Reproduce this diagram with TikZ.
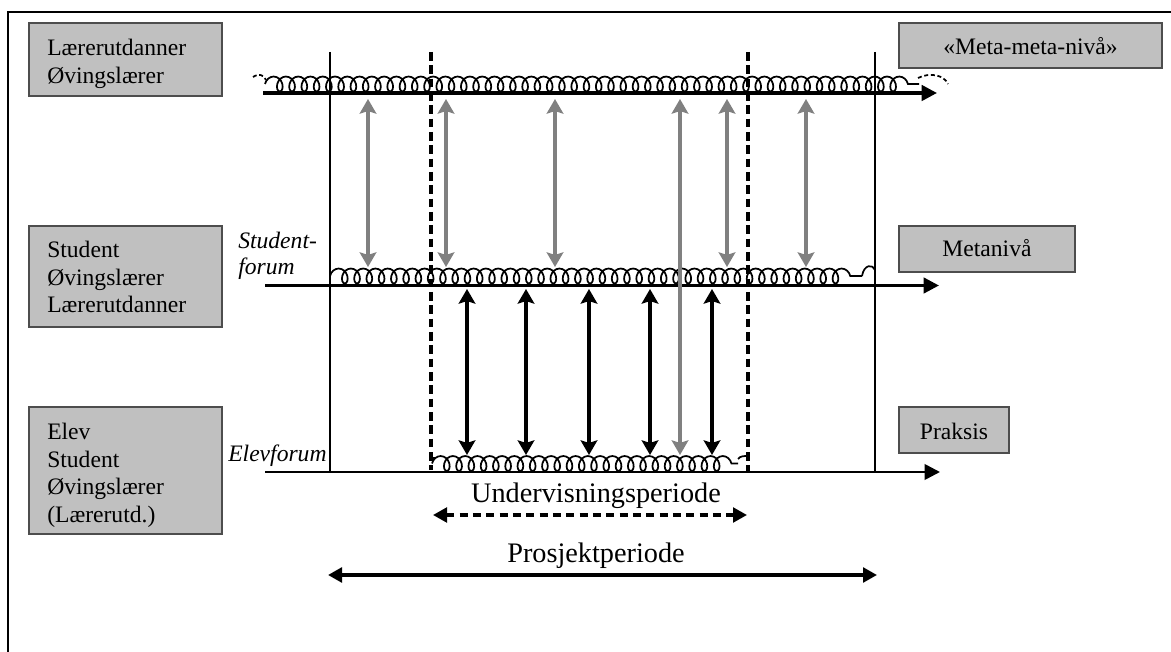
\documentclass[tikz,border=0pt]{standalone}
\usepackage{fontspec}
\setmainfont{Liberation Serif}
\usetikzlibrary{arrows.meta,decorations.pathmorphing,fit}
\definecolor{boxfill}{RGB}{192,192,192}
\definecolor{boxline}{RGB}{77,77,77}
\definecolor{linkgray}{RGB}{128,128,128}
\begin{document}
\begin{tikzpicture}[x=0.75pt,y=-0.75pt,
  levelbox/.style={draw=boxline, line width=0.9pt, fill=boxfill, inner sep=0pt},
  boxtext/.style={inner sep=0pt, align=left, anchor=north west, font=\fontsize{17.7pt}{20.6pt}\selectfont},
  tagtext/.style={inner sep=0pt, anchor=base, font=\fontsize{17.7pt}{20.6pt}\selectfont},
  forumtext/.style={inner sep=0pt, align=left, anchor=north west, font=\fontsize{17.7pt}{19.5pt}\selectfont\itshape},
  periodtext/.style={inner sep=0pt, anchor=base, font=\fontsize{21.2pt}{24pt}\selectfont},
  phase/.style={line width=1.2pt},
  window/.style={line width=2.4pt, dash pattern=on 6.5pt off 3.5pt},
  timeline/.style={-{Triangle[length=11.5pt,width=11.5pt]}},
  spiral/.style={line width=1.3pt, decorate, decoration={coil, amplitude=5.6pt, segment length=9.2pt, aspect=0.75}},
  spiraltail/.style={line width=1.3pt, dash pattern=on 3pt off 2pt},
  reflect/.style={draw=linkgray, line width=3pt,
    {Stealth[length=11pt,width=12.5pt,inset=2pt]}-{Stealth[length=11pt,width=12.5pt,inset=2pt]}},
  act/.style={draw=black, line width=2.6pt,
    {Stealth[length=11pt,width=12.5pt,inset=2pt]}-{Stealth[length=11pt,width=12.5pt,inset=2pt]}},
  periodarrow/.style={{Triangle[length=10.5pt,width=11pt]}-{Triangle[length=10.5pt,width=11pt]}},
]
\useasboundingbox (0,0) rectangle (1171,652);

% outer frame (runs past the page on the right and at the bottom)
\draw[line width=1.6pt] (8,12) rectangle (1190,670);

% level boxes on the left and the level names on the right
\node[levelbox, fit={(29,23) (222,96)}] (lvl1) {};
\node[levelbox, fit={(29,226) (222,327)}] (lvl2) {};
\node[levelbox, fit={(29,407) (222,534)}] (lvl3) {};
\node[levelbox, fit={(899,23) (1162,68)}] (name1) {};
\node[levelbox, fit={(899,226) (1075,272)}] (name2) {};
\node[levelbox, fit={(899,407) (1009,453)}] (name3) {};

\node[boxtext] (lvl1txt) at (47,39) {Lærerutdanner\\Øvingslærer};
\node[boxtext] (lvl2txt) at (47,241) {Student\\Øvingslærer\\Lærerutdanner};
\node[boxtext] (lvl3txt) at (47,423) {Elev\\Student\\Øvingslærer\\(Lærerutd.)};
\node[tagtext] (name1txt) at (1030.5,55) {«Meta-meta-nivå»};
\node[tagtext] (name2txt) at (987,257) {Metanivå};
\node[tagtext] (name3txt) at (954,439) {Praksis};

\node[forumtext] (sforum) at (238,232) {Student-\\forum};
\node[forumtext, anchor=base west] (eforum) at (228,461) {Elevforum};

% project period (solid) and teaching period (dashed) boundaries
\coordinate (pjLt) at (330,52);  \coordinate (pjLb) at (330,472);
\coordinate (pjRt) at (875,52);  \coordinate (pjRb) at (875,472);
\coordinate (tpLt) at (431,52);  \coordinate (tpLb) at (431,470);
\coordinate (tpRt) at (748,52);  \coordinate (tpRb) at (748,472);
\draw[phase] (pjLt) -- (pjLb);
\draw[phase] (pjRt) -- (pjRb);
\draw[window] (tpLt) -- (tpLb);
\draw[window] (tpRt) -- (tpRb);

% time lines of the three levels
\coordinate (axTopL) at (263,93);  \coordinate (axTopR) at (937,93);
\coordinate (axMidL) at (265,285.5); \coordinate (axMidR) at (939,285.5);
\coordinate (axLowL) at (265,472); \coordinate (axLowR) at (940,472);
\draw[timeline, line width=2.6pt] (axTopL) -- (axTopR);
\draw[timeline, line width=2.4pt] (axMidL) -- (axMidR);
\draw[timeline, line width=2pt] (axLowL) -- (axLowR);

% spirals of ongoing reflection on each level
\coordinate (spTopL) at (265,84); \coordinate (spTopR) at (919,84);
\coordinate (spMidL) at (330,276); \coordinate (spMidR) at (862,276);
\coordinate (spLowL) at (432,463.5); \coordinate (spLowR) at (738,463.5);
\draw[spiral] (spTopL) -- (spTopR);
\draw[spiral] (spMidL) -- (spMidR);
\draw[spiral] (spLowL) -- (spLowR);
\draw[spiraltail] (253,77) .. controls (259,73) and (264,75) .. (266,80);
\draw[spiraltail] (918,78) .. controls (930,72) and (944,75) .. (948,84);
\draw[line width=1.3pt] (862,276) .. controls (864,264) and (873,264) .. (875,270);
\draw[line width=1.3pt] (738,459) .. controls (740,456) and (744,456) .. (748,456);
\draw[line width=1.3pt] (431,458) -- (436,458);

% grey links between the upper two levels
\foreach \x [count=\i] in {368,446,555,727,806} {
  \coordinate (gup\i) at (\x,99);
  \coordinate (gdn\i) at (\x,267);
  \draw[reflect] (gup\i) -- (gdn\i);
}
\coordinate (gupL) at (680,99);
\coordinate (gdnL) at (680,455);
\draw[reflect] (gupL) -- (gdnL);

% black links between practice and the meta level
\foreach \x [count=\i] in {467,526,589,650,712} {
  \coordinate (bup\i) at (\x,289);
  \coordinate (bdn\i) at (\x,455);
  \draw[act] (bup\i) -- (bdn\i);
}

% period spans
\coordinate (tpA) at (433,515); \coordinate (tpB) at (747,515);
\draw[periodarrow, line width=2.4pt, dash pattern=on 6pt off 4pt] (tpA) -- (tpB);
\node[periodtext] (tptxt) at (596,502) {Undervisningsperiode};
\coordinate (pjA) at (328,575); \coordinate (pjB) at (877,575);
\draw[periodarrow, line width=2.8pt] (pjA) -- (pjB);
\node[periodtext] (pjtxt) at (596,562) {Prosjektperiode};
\end{tikzpicture}
\end{document}
